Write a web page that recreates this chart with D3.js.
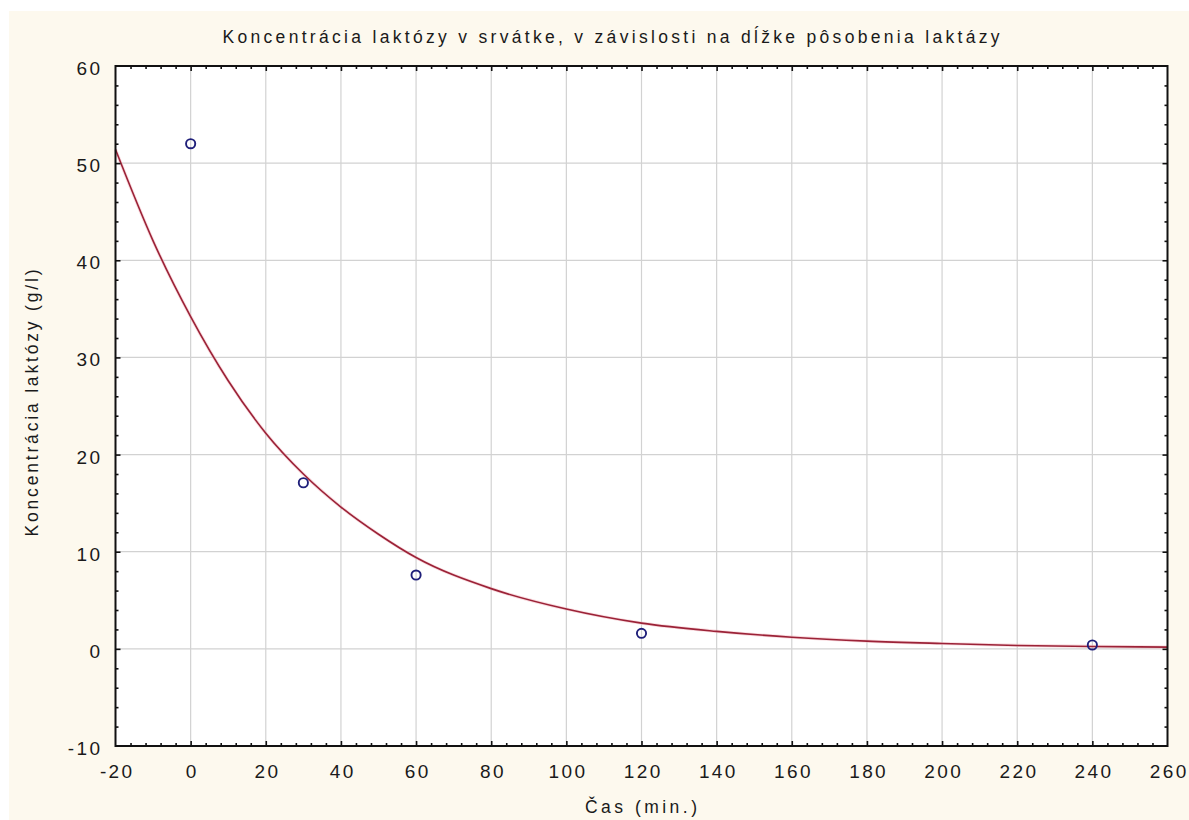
<!DOCTYPE html>
<html>
<head>
<meta charset="utf-8">
<script src="https://cdn.jsdelivr.net/npm/d3@7"></script>
<style>
  html, body { margin: 0; padding: 0; background: #ffffff; }
  svg { display: block; }
  text { font-family: "Liberation Sans", Arial, sans-serif; fill: #1a1a1a; }
</style>
</head>
<body>
<svg id="chart" width="1189" height="820"></svg>
<script>
// ---- data ----
const chartTitle = "Koncentrácia laktózy v srvátke, v závislosti na dĺžke pôsobenia laktázy";
const xLabel = "Čas (min.)";
const yLabel = "Koncentrácia laktózy (g/l)";

const xTickValues = [-20, 0, 20, 40, 60, 80, 100, 120, 140, 160, 180, 200, 220, 240, 260];
const yTickValues = [-10, 0, 10, 20, 30, 40, 50, 60];

const pointTimes  = [0, 30, 60, 120, 240];
const pointValues = [52.0, 17.1, 7.6, 1.6, 0.4];

const fitTimes  = [-20, -10, 0, 10, 20, 30, 40, 50, 60, 80, 100, 120, 140, 160, 180, 200, 220, 240, 260];
const fitValues = [51.4, 42.0, 34.2, 27.6, 22.2, 18.0, 14.6, 11.8, 9.4, 6.2, 4.1, 2.65, 1.8, 1.2, 0.8, 0.55, 0.35, 0.25, 0.18];

// ---- layout ----
const W = 1189, H = 820;
const plot = { left: 115.5, right: 1167.5, top: 66, bottom: 746 };

const svg = d3.select("#chart");

// background: white strip at top/left, cream elsewhere
svg.append("rect").attr("x", 0).attr("y", 0).attr("width", W).attr("height", H).attr("fill", "#ffffff");
svg.append("rect").attr("x", 9).attr("y", 11).attr("width", W - 9).attr("height", H - 11).attr("fill", "#fdf9ee");

const x = d3.scaleLinear().domain([-20, 260]).range([plot.left, plot.right]);
const y = d3.scaleLinear().domain([-10, 60]).range([plot.bottom, plot.top]);

// plot area
svg.append("rect")
  .attr("x", plot.left).attr("y", plot.top)
  .attr("width", plot.right - plot.left).attr("height", plot.bottom - plot.top)
  .attr("fill", "#ffffff");

// gridlines
const grid = svg.append("g").attr("stroke", "#d2d2d2").attr("stroke-width", 1.2);
grid.selectAll(".vx").data(xTickValues.slice(1, -1)).join("line")
  .attr("x1", d => x(d)).attr("x2", d => x(d))
  .attr("y1", plot.top).attr("y2", plot.bottom);
grid.selectAll(".hy").data(yTickValues.slice(1, -1)).join("line")
  .attr("y1", d => y(d)).attr("y2", d => y(d))
  .attr("x1", plot.left).attr("x2", plot.right);

// fitted curve
const line = d3.line()
  .x((d, i) => x(fitTimes[i]))
  .y(d => y(d))
  .curve(d3.curveMonotoneX);
svg.append("path")
  .datum(fitValues)
  .attr("d", line)
  .attr("fill", "none")
  .attr("stroke", "#f4b8c0")
  .attr("stroke-width", 3.2)
  .attr("opacity", 0.5);
svg.append("path")
  .datum(fitValues)
  .attr("d", line)
  .attr("fill", "none")
  .attr("stroke", "#9b2237")
  .attr("stroke-width", 1.6);

// points
svg.append("g").selectAll("circle").data(pointValues).join("circle")
  .attr("cx", (d, i) => x(pointTimes[i]))
  .attr("cy", d => y(d))
  .attr("r", 4.6)
  .attr("fill", "none")
  .attr("stroke", "#1f1f7a")
  .attr("stroke-width", 1.9);

// axes with inward ticks on all four sides
const xMinor = d3.range(-20, 261, 4).filter(v => v % 20 !== 0);
const yMinor = d3.range(-10, 61, 2).filter(v => v % 10 !== 0);

function ticksGroup(axisGen, transform) {
  const g = svg.append("g").attr("transform", transform).call(axisGen);
  g.select(".domain").remove();
  g.selectAll("line").attr("stroke", "#111").attr("stroke-width", 1.6);
  return g;
}

// bottom
ticksGroup(d3.axisTop(x).tickValues(xTickValues.slice(1, -1)).tickSize(5).tickFormat(""), `translate(0,${plot.bottom})`);
ticksGroup(d3.axisTop(x).tickValues(xMinor).tickSize(3).tickFormat(""), `translate(0,${plot.bottom})`);
// top
ticksGroup(d3.axisBottom(x).tickValues(xTickValues.slice(1, -1)).tickSize(5).tickFormat(""), `translate(0,${plot.top})`);
ticksGroup(d3.axisBottom(x).tickValues(xMinor).tickSize(3).tickFormat(""), `translate(0,${plot.top})`);
// left
ticksGroup(d3.axisRight(y).tickValues(yTickValues.slice(1, -1)).tickSize(5).tickFormat(""), `translate(${plot.left},0)`);
ticksGroup(d3.axisRight(y).tickValues(yMinor).tickSize(3).tickFormat(""), `translate(${plot.left},0)`);
// right
ticksGroup(d3.axisLeft(y).tickValues(yTickValues.slice(1, -1)).tickSize(5).tickFormat(""), `translate(${plot.right},0)`);
ticksGroup(d3.axisLeft(y).tickValues(yMinor).tickSize(3).tickFormat(""), `translate(${plot.right},0)`);

// frame
svg.append("rect")
  .attr("x", plot.left).attr("y", plot.top)
  .attr("width", plot.right - plot.left).attr("height", plot.bottom - plot.top)
  .attr("fill", "none").attr("stroke", "#111").attr("stroke-width", 2);

// tick labels (plain hyphen for negatives, as in the reference)
const fmt = d => String(d);
const xLab = d3.axisBottom(x).tickValues(xTickValues).tickSize(0).tickPadding(0).tickFormat(fmt);
const gxl = svg.append("g").attr("transform", `translate(0,${plot.bottom})`).call(xLab);
gxl.select(".domain").remove();
gxl.selectAll("text")
  .attr("y", 32).attr("dy", 0)
  .attr("dx", 1.2)
  .style("font-size", "19px")
  .style("letter-spacing", "2.4px")
  .style("font-family", "'Liberation Sans', Arial, sans-serif")
  .attr("fill", "#1a1a1a");

const yLab = d3.axisLeft(y).tickValues(yTickValues).tickSize(0).tickPadding(0).tickFormat(fmt);
const gyl = svg.append("g").attr("transform", `translate(${plot.left - 13},0)`).call(yLab);
gyl.select(".domain").remove();
gyl.selectAll("text")
  .attr("x", 0).attr("dy", "0.45em")
  .style("font-size", "19px")
  .style("letter-spacing", "2.4px")
  .style("font-family", "'Liberation Sans', Arial, sans-serif")
  .attr("fill", "#1a1a1a");

// title
svg.append("text")
  .attr("x", 611).attr("y", 43)
  .attr("text-anchor", "middle")
  .attr("textLength", 777).attr("lengthAdjust", "spacing")
  .style("font-size", "17.5px")
  .text(chartTitle);

// x label
svg.append("text")
  .attr("x", 641).attr("y", 813)
  .attr("text-anchor", "middle")
  .attr("textLength", 112).attr("lengthAdjust", "spacing")
  .style("font-size", "17.5px")
  .text(xLabel);

// y label
svg.append("text")
  .attr("transform", "translate(38,403) rotate(-90)")
  .attr("text-anchor", "middle")
  .attr("textLength", 267).attr("lengthAdjust", "spacing")
  .style("font-size", "17.5px")
  .text(yLabel);
</script>
</body>
</html>
